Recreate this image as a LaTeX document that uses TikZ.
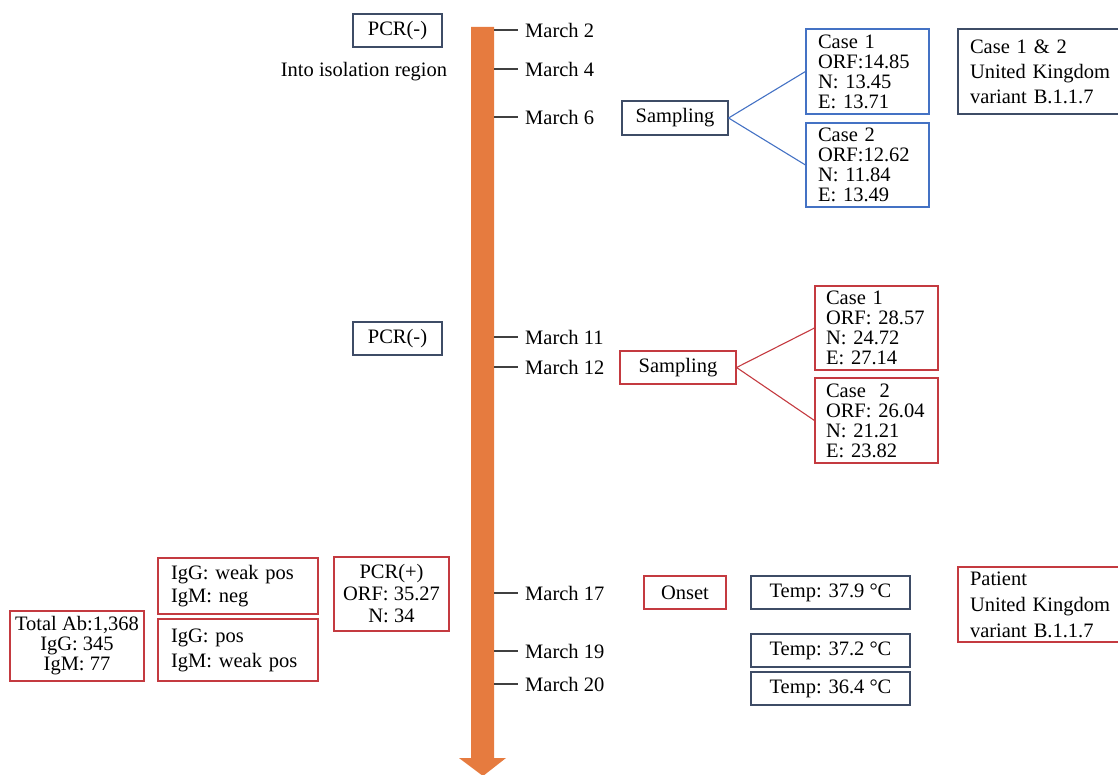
\documentclass[tikz,border=0pt]{standalone}
\usepackage{fontspec}
\setmainfont{Liberation Serif}
\usepackage{xcolor}
\definecolor{bar-orange}{HTML}{E67B3F}
\definecolor{dark-line}{HTML}{3E4C66}
\definecolor{blue-line}{HTML}{4472C4}
\definecolor{red-line}{HTML}{C43A40}
\definecolor{tick-gray}{HTML}{404040}
\newcommand{\ftsz}[1]{\fontsize{20.5}{#1}\selectfont}

\begin{document}
\begin{tikzpicture}[x=1pt, y=-1pt, every node/.style={font=\ftsz{20}},
    box/.style={draw, line width=1.1pt, fill=white, inner sep=0pt},
    darkbox/.style={box, draw=dark-line},
    bluebox/.style={box, draw=blue-line},
    redbox/.style={box, draw=red-line},
    day/.style={anchor=west, inner xsep=7pt, inner ysep=0pt},
    tick/.style={draw=tick-gray, line width=1.2pt}]
    \useasboundingbox (0,0) rectangle (1118,775);

    % timeline arrow
    \fill[bar-orange] (471,27) -- (494,27) -- (494,758) -- (506,758)
      -- (483,776) -- (459,758) -- (471,758) -- cycle;
    \coordinate (shaft) at (494,0);

    \foreach \y/\d/\nm in {30/2/d2, 69/4/d4, 117/6/d6, 337/11/d11,
      367/12/d12, 593/17/d17, 651/19/d19, 684/20/d20} {
      \node[day] (\nm) at (518,\y) {March \d};
      \draw[tick] (shaft |- \nm.west) -- (\nm.west);
    }

    % left side
    \node[darkbox, minimum width=89pt, minimum height=33pt] (pcrA) at (397.5,30.5) {PCR(-)};
    \node (iso) at (364,72) {Into isolation region};
    \node[darkbox, minimum width=89pt, minimum height=33pt] (pcrB) at (397.5,338.5) {PCR(-)};
    \node[redbox, minimum width=115pt, minimum height=74pt, align=center,
      font=\ftsz{22}] (pcrP) at (391.5,594) {PCR(+)\\ORF: 35.27\\N: 34};
    \node[redbox, minimum height=56pt, inner xsep=13pt, text width=134pt,
      align=left, font=\ftsz{23}] (igA) at (238,586) {IgG: weak pos\\IgM: neg};
    \node[redbox, minimum height=62pt, inner xsep=13pt, text width=134pt,
      align=left, font=\ftsz{25}] (igB) at (238,650) {IgG: pos\\IgM: weak pos};
    \node[redbox, minimum width=134pt, minimum height=70pt, align=center,
      font=\ftsz{20}] (total) at (77,646) {Total Ab:1,368\\IgG: 345\\IgM: 77};

    % first sampling
    \node[darkbox, minimum width=106pt, minimum height=34pt] (sampA) at (675,118) {Sampling};
    \node[bluebox, minimum height=85pt, inner xsep=12pt, text width=99pt,
      align=left] (c1) at (867.5,71.5) {Case 1\\ORF:14.85\\N: 13.45\\E: 13.71};
    \node[bluebox, minimum height=84pt, inner xsep=12pt, text width=99pt,
      align=left] (c2) at (867.5,165) {Case 2\\ORF:12.62\\N: 11.84\\E: 13.49};
    \draw[blue-line, line width=1.1pt] (sampA.east) -- (c1.west);
    \draw[blue-line, line width=1.1pt] (sampA.east) -- (c2.west);
    \node[darkbox, minimum height=85pt, inner xsep=12pt, text width=148pt,
      align=left, font=\ftsz{25}] (infoA) at (1044,71.5)
      {Case 1 \& 2\\United Kingdom\\variant B.1.1.7};

    % second sampling
    \node[redbox, minimum width=116pt, minimum height=33pt] (sampB) at (678,367.5) {Sampling};
    \node[redbox, minimum height=84pt, inner xsep=11pt, text width=101pt,
      align=left] (c3) at (876.5,328) {Case 1\\ORF: 28.57\\N: 24.72\\E: 27.14};
    \node[redbox, minimum height=85pt, inner xsep=11pt, text width=101pt,
      align=left] (c4) at (876.5,420.5) {Case\ \ 2\\ORF: 26.04\\N: 21.21\\E: 23.82};
    \draw[red-line, line width=1.1pt] (sampB.east) -- (c3.west);
    \draw[red-line, line width=1.1pt] (sampB.east) -- (c4.west);

    % onset
    \node[redbox, minimum width=82pt, minimum height=33pt] (onset) at (685,592.5) {Onset};
    \node[darkbox, minimum width=159pt, minimum height=33pt] (tempA) at (830.5,592.5) {Temp: 37.9 °C};
    \node[darkbox, minimum width=159pt, minimum height=33pt] (tempB) at (830.5,650.5) {Temp: 37.2 °C};
    \node[darkbox, minimum width=159pt, minimum height=33pt] (tempC) at (830.5,688.5) {Temp: 36.4 °C};
    \node[redbox, minimum height=75pt, inner xsep=12pt, text width=148pt,
      align=left, font=\ftsz{26}] (infoB) at (1044,604.5)
      {Patient\\United Kingdom\\variant B.1.1.7};
  \end{tikzpicture}
\end{document}
